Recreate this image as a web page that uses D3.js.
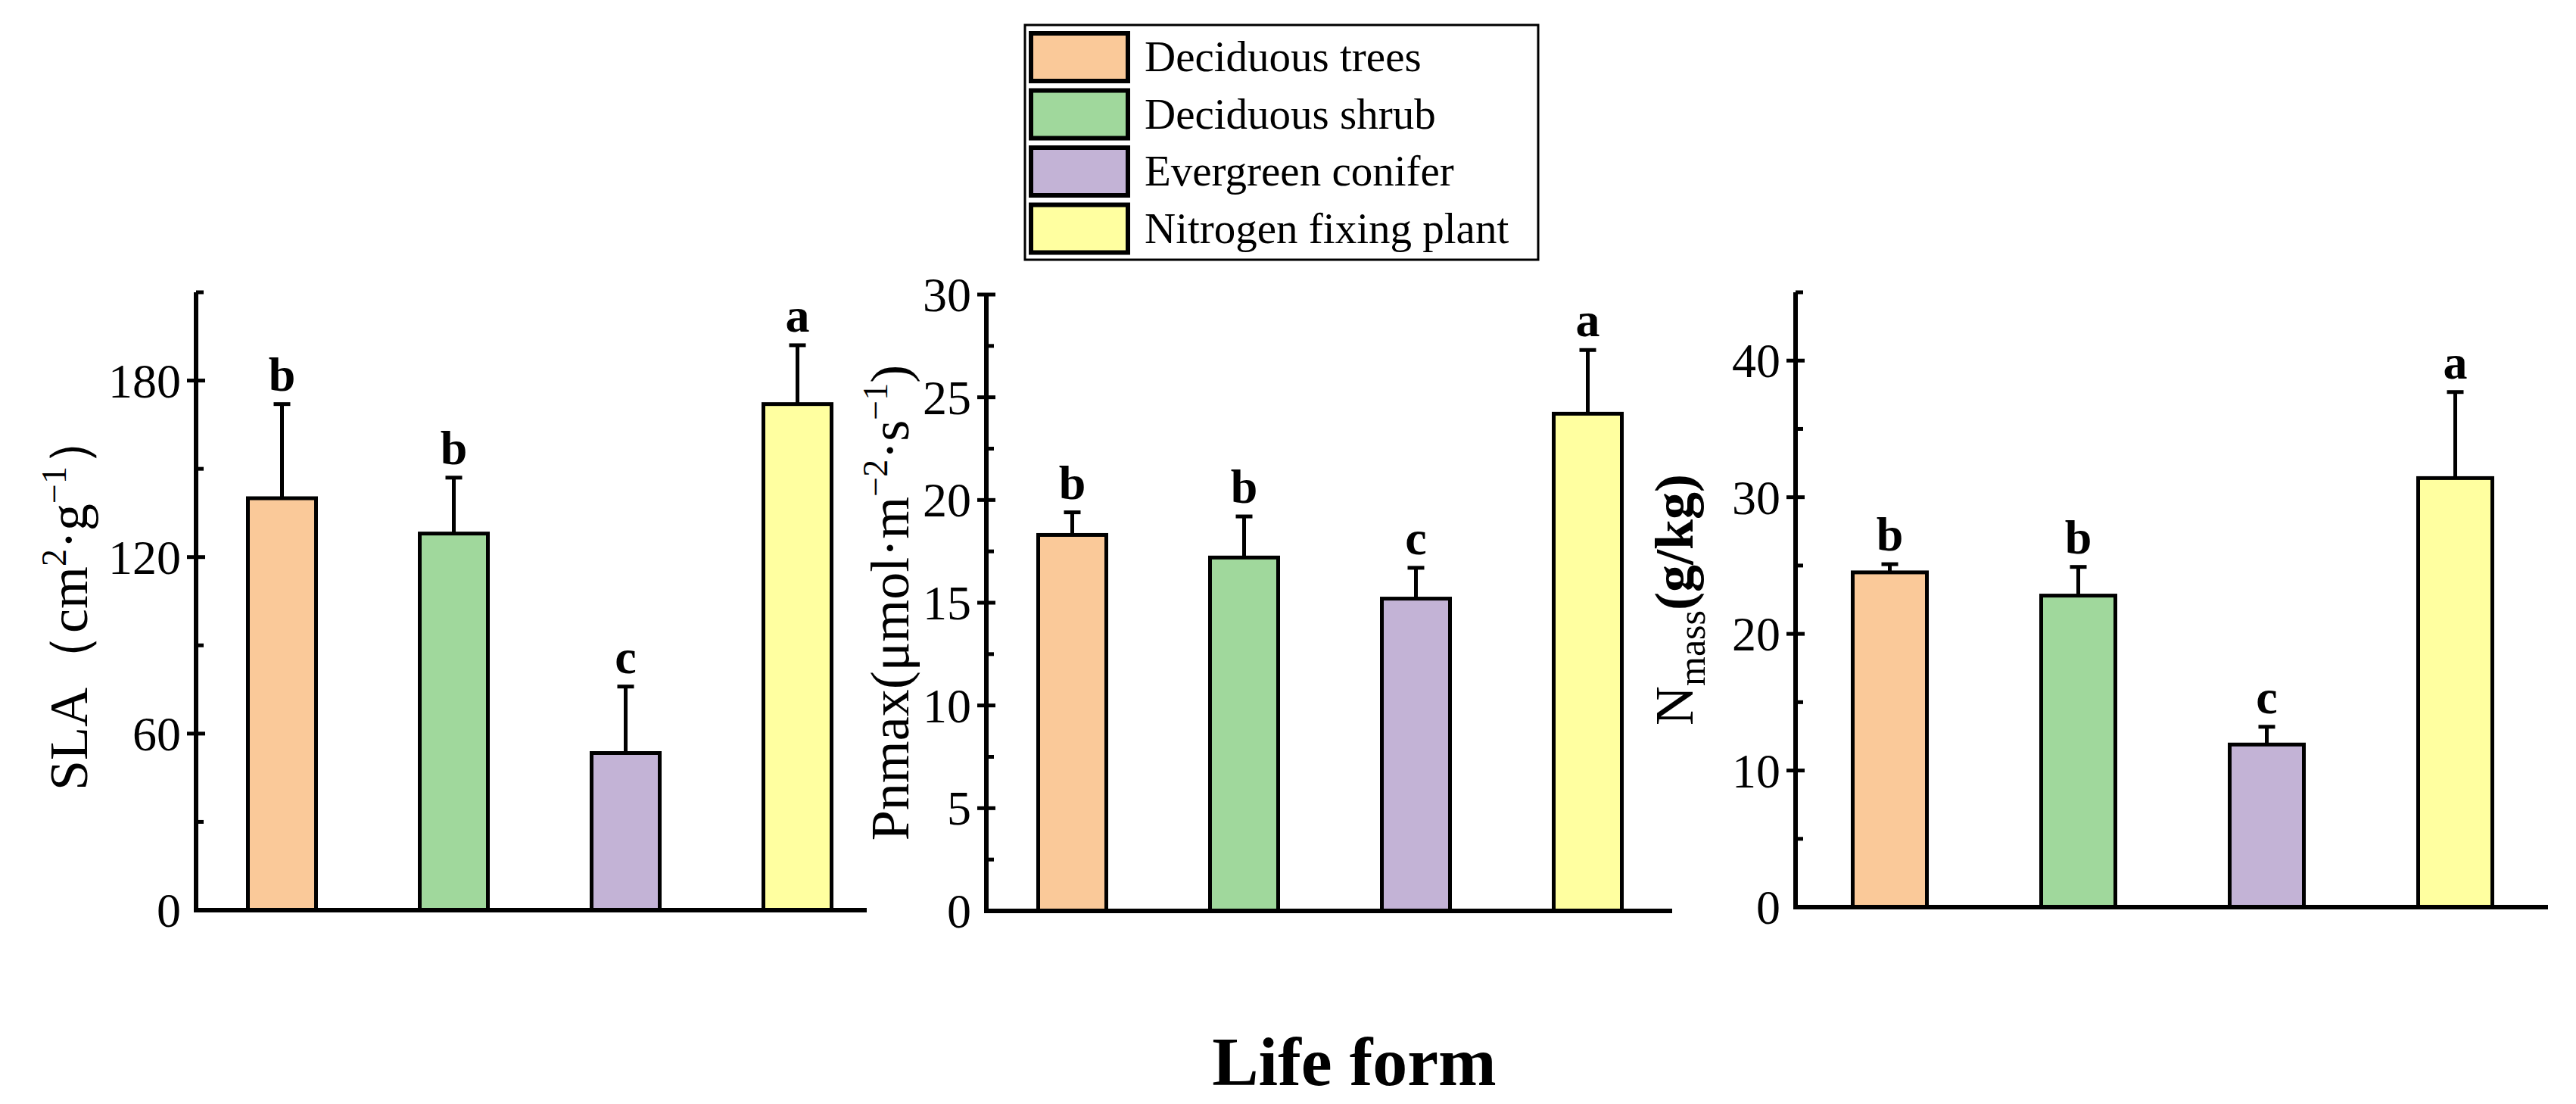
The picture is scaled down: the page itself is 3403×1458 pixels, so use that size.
<!DOCTYPE html>
<html>
<head>
<meta charset="utf-8">
<script src="https://cdn.jsdelivr.net/npm/d3@7"></script>
<style>
body { margin: 0; background: #fff; }
text { font-family: "Liberation Serif", "Times New Roman", serif; fill: #000; }
</style>
</head>
<body>
<script>
const categories = ['Deciduous trees', 'Deciduous shrub', 'Evergreen conifer', 'Nitrogen fixing plant'];
const colors = ['#FAC999', '#A0D89C', '#C3B3D6', '#FFFFA0'];

const slaMean = [140, 128, 53.4, 172];
const slaErr = [32, 19, 22.6, 20];
const slaLetters = ['b', 'b', 'c', 'a'];

const pnMean = [18.3, 17.2, 15.2, 24.2];
const pnErr = [1.1, 2.0, 1.5, 3.1];
const pnLetters = ['b', 'b', 'c', 'a'];

const nMean = [24.5, 22.8, 11.9, 31.4];
const nErr = [0.6, 2.1, 1.3, 6.3];
const nLetters = ['b', 'b', 'c', 'a'];

const width = 3403, height = 1458;

const svg = d3.select('body').append('svg')
    .attr('width', width)
    .attr('height', height);

const panels = [
    {mean: slaMean, err: slaErr, letters: slaLetters, left: 259, right: 1145, top: 386, bottom: 1202,
     max: 210, major: 60, minor: 30, step: 227, barW: 90, labelX: 115, label: 'sla'},
    {mean: pnMean, err: pnErr, letters: pnLetters, left: 1303, right: 2209, top: 389, bottom: 1203,
     max: 30, major: 5, minor: 2.5, step: 227, barW: 90, labelX: 1200, label: 'pn'},
    {mean: nMean, err: nErr, letters: nLetters, left: 2372, right: 3366, top: 386, bottom: 1198,
     max: 45, major: 10, minor: 5, step: 249, barW: 98, labelX: 2236, label: 'n'}
];

panels.forEach(p => draw(p));

function draw(p) {
    let g = svg.append('g');

    let x = d3.scalePoint()
        .domain(categories)
        .range([p.left, p.left + 4 * p.step])
        .padding(0.5);

    let y = d3.scaleLinear()
        .domain([0, p.max])
        .range([p.bottom, p.top]);

    let data = categories.map((c, i) => ({cat: c, v: p.mean[i], e: p.err[i], l: p.letters[i], col: colors[i]}));

    // error bars
    g.selectAll('.err')
        .data(data)
        .enter()
        .append('line')
        .attr('x1', d => x(d.cat)).attr('x2', d => x(d.cat))
        .attr('y1', d => y(d.v)).attr('y2', d => y(d.v + d.e))
        .attr('stroke', '#000').attr('stroke-width', 5);
    g.selectAll('.cap')
        .data(data)
        .enter()
        .append('line')
        .attr('x1', d => x(d.cat) - 11).attr('x2', d => x(d.cat) + 11)
        .attr('y1', d => y(d.v + d.e)).attr('y2', d => y(d.v + d.e))
        .attr('stroke', '#000').attr('stroke-width', 5);

    // bars
    g.selectAll('rect')
        .data(data)
        .enter()
        .append('rect')
        .attr('x', d => x(d.cat) - p.barW / 2)
        .attr('width', p.barW)
        .attr('y', d => y(d.v))
        .attr('height', d => y(0) - y(d.v))
        .attr('fill', d => d.col)
        .attr('stroke', '#000')
        .attr('stroke-width', 5);

    // letters
    g.selectAll('.letter')
        .data(data)
        .enter()
        .append('text')
        .attr('x', d => x(d.cat))
        .attr('y', d => y(d.v + d.e) - 18)
        .attr('text-anchor', 'middle')
        .attr('font-size', 64)
        .attr('font-weight', 'bold')
        .text(d => d.l);

    // y axis
    let majors = d3.range(0, p.max + 1e-9, p.major);
    let minors = d3.range(p.minor, p.max + 1e-9, p.major);
    let ax = g.append('g');
    ax.append('line')
        .attr('x1', p.left).attr('x2', p.left)
        .attr('y1', p.top).attr('y2', p.bottom)
        .attr('stroke', '#000').attr('stroke-width', 6);
    ax.append('line')
        .attr('x1', p.left - 3).attr('x2', p.right)
        .attr('y1', p.bottom).attr('y2', p.bottom)
        .attr('stroke', '#000').attr('stroke-width', 6);
    ax.selectAll('.maj')
        .data(majors.filter(v => v > 0))
        .enter()
        .append('line')
        .attr('x1', p.left - 12).attr('x2', p.left + 12)
        .attr('y1', d => y(d)).attr('y2', d => y(d))
        .attr('stroke', '#000').attr('stroke-width', 5);
    ax.selectAll('.min')
        .data(minors)
        .enter()
        .append('line')
        .attr('x1', p.left).attr('x2', p.left + 10)
        .attr('y1', d => y(d)).attr('y2', d => y(d))
        .attr('stroke', '#000').attr('stroke-width', 5);
    ax.selectAll('.tl')
        .data(majors)
        .enter()
        .append('text')
        .attr('x', p.left - 20)
        .attr('y', d => y(d) + 22)
        .attr('text-anchor', 'end')
        .attr('font-size', 64)
        .text(d => d);

    // y label
    let cy = (p.top + p.bottom) / 2;
    let t = g.append('text')
        .attr('transform', `translate(${p.labelX},${cy}) rotate(-90)`)
        .attr('text-anchor', 'middle')
        .attr('font-size', 72);
    if (p.label === 'sla') {
        t.append('tspan').text('SLA（cm');
        t.append('tspan').attr('font-size', 46).attr('dy', -28).text('2');
        t.append('tspan').attr('dy', 28).text('·g');
        t.append('tspan').attr('font-size', 46).attr('dy', -28).text('−1');
        t.append('tspan').attr('dy', 28).text('）');
    } else if (p.label === 'pn') {
        t.append('tspan').text('Pnmax(μmol·m');
        t.append('tspan').attr('font-size', 46).attr('dy', -28).text('−2');
        t.append('tspan').attr('dy', 28).text('·s');
        t.append('tspan').attr('font-size', 46).attr('dy', -28).text('−1');
        t.append('tspan').attr('dy', 28).text(')');
    } else {
        t.append('tspan').text('N');
        t.append('tspan').attr('font-size', 50).attr('dy', 16).text('mass');
        t.append('tspan').attr('dy', -16).attr('font-weight', 'bold').text('(g/kg)');
    }
}

// x title
svg.append('text')
    .attr('x', 1789)
    .attr('y', 1433)
    .attr('text-anchor', 'middle')
    .attr('font-size', 92)
    .attr('font-weight', 'bold')
    .text('Life form');

// legend
let lg = svg.append('g');
lg.append('rect')
    .attr('x', 1354).attr('y', 33)
    .attr('width', 678).attr('height', 310)
    .attr('fill', '#fff').attr('stroke', '#000').attr('stroke-width', 3);
let rows = lg.selectAll('.row')
    .data(categories)
    .enter()
    .append('g')
    .attr('transform', (d, i) => `translate(0,${42 + i * 75.5})`);
rows.append('rect')
    .attr('x', 1362).attr('y', 2)
    .attr('width', 128).attr('height', 63)
    .attr('fill', (d, i) => colors[i])
    .attr('stroke', '#000').attr('stroke-width', 6);
rows.append('text')
    .attr('x', 1512).attr('y', 52)
    .attr('font-size', 57)
    .text(d => d);
</script>
</body>
</html>
